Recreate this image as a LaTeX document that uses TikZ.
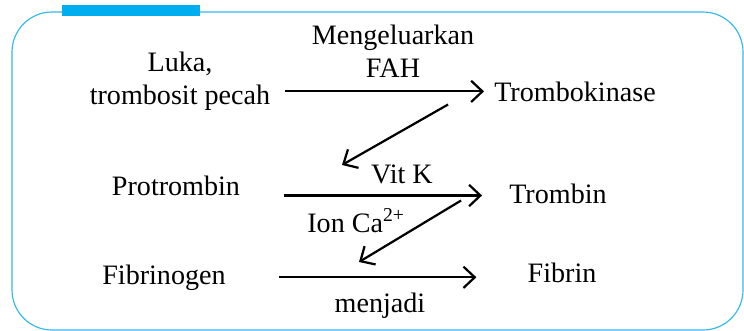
\documentclass[tikz,border=0pt]{standalone}
\usepackage{fontspec}
\setmainfont{Liberation Serif}
\usetikzlibrary{arrows.meta}

\definecolor{frameblue}{HTML}{33B9EE}
\definecolor{barblue}{HTML}{00AEEF}

\begin{document}
\begin{tikzpicture}[x=0.03cm, y=-0.03cm,
    lbl/.style={font=\fontsize{24}{28}\selectfont, inner sep=0pt, anchor=base, align=center},
    arr/.style={line width=1.9pt, -{Straight Barb[length=3.4mm, width=6.4mm]}}]

\useasboundingbox (0,0) rectangle (744,331);

% ---- frame --------------------------------------------------------------
\draw[frameblue, line width=1pt, rounded corners=1.2cm] (12,12) rectangle (743,330);
\fill[barblue] (62,5) rectangle (200,16);

% ---- substances ---------------------------------------------------------
\node[lbl] (luka)  at (180,104) {Luka,\\trombosit pecah};
\node[lbl] (tk)    at (575,101) {Trombokinase};
\node[lbl] (prot)  at (176,195) {Protrombin};
\node[lbl] (trb)   at (558,203) {Trombin};
\node[lbl] (fibg)  at (164,284) {Fibrinogen};
\node[lbl] (fib)   at (562,282) {Fibrin};

% ---- labels on the arrows -----------------------------------------------
\node[lbl] (fah)   at (393,77)  {Mengeluarkan\\FAH};
\node[lbl] (vitk)  at (402,183) {Vit K};
\node[lbl] (ion)   at (356,232) {Ion Ca\textsuperscript{2+}};
\node[lbl] (jadi)  at (380,312) {menjadi};

% ---- reactions ----------------------------------------------------------
\draw[arr, shorten <=15*0.03cm, shorten >=10*0.03cm]
    (tk.west -| luka.east) -- (tk.west);
\draw[arr, shorten <=44*0.03cm, shorten >=27*0.03cm]
    (prot.south east) -- (prot.south east -| trb.west);
\draw[arr, shorten <=53*0.03cm, shorten >=51*0.03cm]
    (fibg.east) -- (fibg.east -| fib.west);

% enzymes acting on the next step
\coordinate (k1) at (342,165);
\coordinate (k2) at (359,262);
\draw[arr] ([shift={(-46,3)}]tk.south west) -- (k1);
\draw[arr] ([shift={(-48,-3)}]trb.south west) -- (k2);

\end{tikzpicture}
\end{document}
